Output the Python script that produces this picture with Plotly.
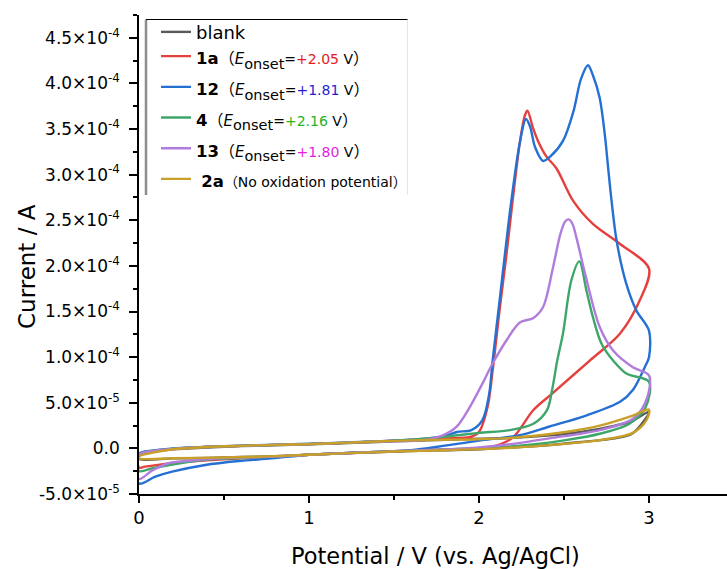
import plotly.graph_objects as go

# ---------------- data (current in units of 1e-5 A) ----------------
SCALE = 1e-5

blank_v = [0, 0.1, 0.2, 0.4, 0.6, 0.8, 1.0, 1.2, 1.4, 1.6, 1.8, 2.0, 2.2, 2.4, 2.6, 2.8, 2.9, 3.0,
           2.97, 2.9, 2.8, 2.6, 2.4, 2.2, 2.0, 1.8, 1.6, 1.4, 1.2, 1.0, 0.8, 0.6, 0.4, 0.2, 0.0, 0.0]
blank_i = [-0.8, -0.3, -0.1, 0.1, 0.25, 0.35, 0.45, 0.57, 0.7, 0.83, 0.95, 1.05, 1.15, 1.4, 1.8, 2.5, 3.0, 4.0,
           3.0, 1.6, 1.1, 0.7, 0.35, 0.1, -0.1, -0.2, -0.3, -0.42, -0.55, -0.7, -0.85, -0.95, -1.05, -1.1, -1.15, -0.8]

a1_v = [0, 0.1, 0.2, 0.4, 0.6, 0.8, 1.0, 1.2, 1.4, 1.6, 1.8, 1.95, 2.0, 2.05, 2.08, 2.12, 2.16, 2.2, 2.24, 2.27,
        2.285, 2.318, 2.347, 2.396, 2.455, 2.555, 2.67, 2.83, 3.0,
        2.945, 2.83, 2.65, 2.43, 2.32, 2.2, 2.1, 2.0, 1.8, 1.6, 1.4, 1.2, 1.0, 0.8, 0.6, 0.4, 0.18, 0.034, 0.0, 0.0]
a1_i = [-0.65, -0.25, -0.05, 0.15, 0.28, 0.38, 0.47, 0.6, 0.75, 0.92, 1.1, 1.25, 1.8, 4.5, 8.5, 15.0, 21.0, 27.5, 33.5, 36.5,
        37.0, 35.1, 33.7, 32.0, 30.7, 27.1, 24.6, 22.4, 19.7,
        16.2, 12.6, 9.6, 6.0, 4.2, 1.2, 0.3, 0.0, -0.12, -0.25, -0.38, -0.53, -0.7, -0.9, -1.1, -1.3, -1.64, -2.0, -2.1, -0.65]

c12_v = [0, 0.1, 0.2, 0.4, 0.6, 0.8, 1.0, 1.2, 1.4, 1.6, 1.79, 1.87, 1.955, 2.02, 2.06, 2.08, 2.12, 2.16, 2.19, 2.24,
         2.276, 2.3, 2.33, 2.377, 2.42, 2.494, 2.555, 2.6, 2.641, 2.67, 2.71, 2.74, 2.76, 2.78, 2.81, 2.867, 2.926, 3.0,
         3.0, 2.975, 2.905, 2.83, 2.63, 2.415, 2.24, 2.02, 1.8, 1.6, 1.4, 1.2, 1.0, 0.78, 0.587, 0.39, 0.195, 0.096, 0.0, 0.0]
c12_i = [-0.6, -0.2, 0.0, 0.18, 0.3, 0.4, 0.5, 0.62, 0.78, 0.95, 1.3, 1.8, 2.0, 3.1, 6.0, 9.6, 16.0, 22.5, 27.1, 33.5,
         36.1, 35.3, 33.0, 31.5, 32.0, 33.7, 36.9, 40.5, 42.0, 40.9, 38.4, 34.4, 30.7, 27.1, 22.7, 18.0, 15.1, 12.9,
         10.0, 8.9, 6.4, 5.1, 3.6, 2.4, 1.45, 0.9, 0.3, -0.2, -0.38, -0.53, -0.7, -1.1, -1.39, -1.82, -2.55, -3.1, -3.85, -0.6]

c4_v = [0, 0.1, 0.2, 0.4, 0.6, 0.8, 1.0, 1.2, 1.4, 1.6, 1.83, 2.0, 2.18, 2.32, 2.4, 2.43, 2.46, 2.494, 2.543, 2.59,
        2.632, 2.67, 2.72, 2.79, 2.867, 3.0,
        2.98, 2.885, 2.71, 2.51, 2.3, 2.1, 1.8, 1.6, 1.4, 1.2, 1.0, 0.8, 0.6, 0.376, 0.18, 0.08, 0.0, 0.0]
c4_i = [-0.65, -0.25, -0.05, 0.15, 0.28, 0.38, 0.47, 0.6, 0.75, 0.95, 1.35, 1.7, 2.0, 2.7, 4.2, 6.4, 9.6, 12.6, 18.4, 20.5,
        17.3, 14.4, 11.5, 9.6, 8.2, 7.3,
        4.5, 2.7, 1.6, 0.9, 0.4, 0.1, -0.12, -0.25, -0.38, -0.53, -0.7, -0.9, -1.05, -1.28, -1.82, -2.18, -2.48, -0.65]

c13_v = [0, 0.1, 0.2, 0.4, 0.6, 0.8, 1.0, 1.2, 1.4, 1.67, 1.79, 1.87, 1.945, 2.02, 2.08, 2.16, 2.24, 2.32, 2.377, 2.435,
         2.48, 2.508, 2.528, 2.55, 2.573, 2.63, 2.71, 2.79, 2.905, 3.0,
         2.99, 2.91, 2.71, 2.415, 2.2, 2.0, 1.8, 1.6, 1.4, 1.2, 1.0, 0.8, 0.475, 0.28, 0.18, 0.08, 0.0, 0.0]
c13_i = [-0.7, -0.25, -0.05, 0.15, 0.28, 0.38, 0.47, 0.6, 0.75, 0.9, 1.45, 2.4, 4.5, 7.1, 9.3, 11.8, 13.8, 14.3, 15.5, 19.8,
         23.6, 24.9, 25.1, 24.6, 23.1, 18.7, 13.3, 10.7, 8.9, 8.0,
         5.6, 3.3, 2.0, 1.1, 0.5, 0.1, -0.12, -0.25, -0.38, -0.53, -0.7, -0.9, -1.1, -1.39, -1.6, -2.4, -3.35, -0.7]

a2_v = [0, 0.1, 0.2, 0.4, 0.6, 0.8, 1.0, 1.2, 1.4, 1.6, 1.8, 2.0, 2.22, 2.51, 2.71, 2.905, 3.0,
        2.985, 2.905, 2.71, 2.415, 2.12, 1.8, 1.5, 1.2, 1.0, 0.8, 0.5, 0.2, 0.0, 0.0]
a2_i = [-0.9, -0.4, -0.1, 0.15, 0.28, 0.38, 0.47, 0.6, 0.75, 0.88, 0.95, 1.0, 1.2, 1.8, 2.5, 3.6, 4.25,
        3.1, 1.7, 0.9, 0.36, 0.0, -0.2, -0.35, -0.55, -0.7, -0.85, -1.0, -1.08, -1.1, -0.9]


def onset_label(compound, value, color):
    return ("<span style='font-size:16.5px'><b>" + compound + "</b></span>"
            "<span style='font-size:16px'>（</span>"
            "<span style='font-size:15px'><i>E</i></span>"
            "<sub><span style='font-size:14.5px'>onset</span></sub>"
            "<span style='font-size:14px'>=</span>"
            "<span style='font-size:14px;color:" + color + "'>" + value + "</span>"
            "<span style='font-size:14px'> V</span>"
            "<span style='font-size:16px'>）</span>")


series_names = [
    "<span style='font-size:18px'>blank</span>",
    onset_label("1a", "+2.05", "#e41c1c"),
    onset_label("12", "+1.81", "#1f1fd0"),
    onset_label("4", "+2.16", "#22b522"),
    onset_label("13", "+1.80", "#e01fe0"),
    "<span style='font-size:16.5px'> <b>2a</b></span><span style='font-size:14px'>（No oxidation potential）</span>",
]
series_v = [blank_v, a1_v, c12_v, c4_v, c13_v, a2_v]
series_i = [blank_i, a1_i, c12_i, c4_i, c13_i, a2_i]
series_colors = ["#5a5a5a", "#e5403d", "#2470d3", "#3fa66b", "#b07ddc", "#c8a027"]
series_legend = ["legend", "legend2", "legend2", "legend2", "legend2", "legend2"]

y_tickvals = [-5e-5, 0, 5e-5, 1e-4, 1.5e-4, 2e-4, 2.5e-4, 3e-4, 3.5e-4, 4e-4, 4.5e-4]
y_ticktext = ["-5.0×10<sup>-5</sup>", "0.0", "5.0×10<sup>-5</sup>", "1.0×10<sup>-4</sup>",
              "1.5×10<sup>-4</sup>", "2.0×10<sup>-4</sup>", "2.5×10<sup>-4</sup>", "3.0×10<sup>-4</sup>",
              "3.5×10<sup>-4</sup>", "4.0×10<sup>-4</sup>", "4.5×10<sup>-4</sup>"]
x_tickvals = [0, 1, 2, 3]
x_ticktext = ["0", "1", "2", "3"]

# ---------------- figure ----------------
FONT = "'DejaVu Sans', 'Noto Sans CJK SC', sans-serif"
W, H = 727, 569
ML, MR, MT, MB = 139, 0, 15, 75
PW, PH = W - ML - MR, H - MT - MB

fig = go.Figure()
for name, v, i, c, lg in zip(series_names, series_v, series_i, series_colors, series_legend):
    fig.add_trace(go.Scatter(
        x=v, y=[val * SCALE for val in i], mode="lines", name=name, legend=lg,
        line=dict(color=c, width=2.4, shape="spline", smoothing=0.9),
    ))


def px_x(p):
    return (p - ML) / PW


def px_y(p):
    return (H - MB - p) / PH


axis_common = dict(showline=True, linecolor="black", linewidth=1.5, ticks="outside",
                   tickcolor="black", tickwidth=1.5, showgrid=False, zeroline=False,
                   mirror=False)

fig.update_layout(
    width=W, height=H,
    margin=dict(l=ML, r=MR, t=MT, b=MB, pad=0),
    paper_bgcolor="white", plot_bgcolor="white",
    font=dict(family=FONT, color="black"),
    xaxis=dict(range=[0, PW / 170.0], tickvals=x_tickvals, ticktext=x_ticktext, ticklen=7,
               tickfont=dict(size=18, family=FONT, color="black"),
               minor=dict(ticks="outside", ticklen=4, tickcolor="black", tickwidth=1.5, dtick=0.5, tick0=0),
               **axis_common),
    yaxis=dict(range=[-5e-5, 4.75e-4], tickvals=y_tickvals, ticktext=y_ticktext, ticklen=8,
               ticklabelstandoff=6,
               tickfont=dict(size=17, family=FONT, color="black"),
               minor=dict(ticks="outside", ticklen=4, tickcolor="black", tickwidth=1.5, dtick=2.5e-5, tick0=0),
               **axis_common),
    showlegend=True,
    legend=dict(x=px_x(156), y=px_y(14), xanchor="left", yanchor="top",
                bgcolor="rgba(255,255,255,0)", borderwidth=0,
                font=dict(size=17.5, family=FONT, color="black"), itemwidth=30),
    legend2=dict(x=px_x(156), y=px_y(35.8), xanchor="left", yanchor="top",
                 bgcolor="rgba(255,255,255,0)", borderwidth=0,
                 font=dict(size=21.3, family=FONT, color="black"), itemwidth=30),
    annotations=[
        dict(text="Potential / V (vs. Ag/AgCl)", xref="paper", yref="paper",
             x=px_x(436), y=px_y(556), xanchor="center", yanchor="middle",
             showarrow=False, font=dict(size=22.5, family=FONT, color="black")),
        dict(text="Current / A", xref="paper", yref="paper", textangle=-90,
             x=px_x(27), y=px_y(267), xanchor="center", yanchor="middle",
             showarrow=False, font=dict(size=23, family=FONT, color="black")),
    ],
    shapes=[
        dict(type="line", xref="paper", yref="paper", x0=px_x(146), x1=px_x(146), y0=px_y(195), y1=px_y(19.5),
             line=dict(color="#8c8c8c", width=2.5)),
        dict(type="line", xref="paper", yref="paper", x0=px_x(146), x1=px_x(407.5), y0=px_y(19.5), y1=px_y(19.5),
             line=dict(color="black", width=1)),
        dict(type="line", xref="paper", yref="paper", x0=px_x(407.5), x1=px_x(407.5), y0=px_y(195), y1=px_y(19.5),
             line=dict(color="rgba(0,0,0,0.1)", width=1)),
    ],
)

fig.write_html("out.html", config={"displayModeBar": False},
               post_script="document.body.style.margin='0';document.body.style.padding='0';")
